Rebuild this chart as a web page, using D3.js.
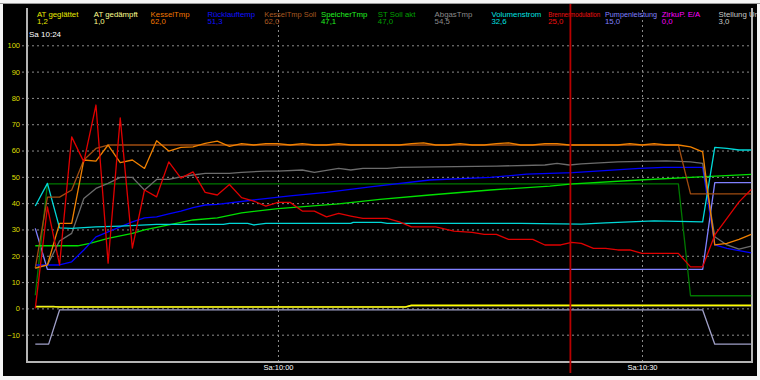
<!DOCTYPE html>
<html lang="de">
<head>
<meta charset="UTF-8">
<title>Heizung Verlauf</title>
<style>
  body { margin: 0; background: #fff; }
  svg { display: block; font-family: Arial, 'Liberation Sans', sans-serif; }
  .grid line { stroke: #8c8c8c; stroke-dasharray: 2,3; }
  .grid .domain { display: none; }
  .series { fill: none; stroke-width: 1.3; stroke-linejoin: round; }
</style>
</head>
<body>
<svg id="chart" width="760" height="380"></svg>
<script src="https://cdn.jsdelivr.net/npm/d3@7/dist/d3.min.js"></script>
<script>
// [minutes after 09:40, value]
const atGeglaettet = [[0,0.6],[30.5,0.6],[31,1.2],[59,1.2]];
const atGedaempft = [[0,0.8],[1.5,0.8],[2,0.5],[30.5,0.5],[31,1.0],[59,1.0]];
const kesselTmp = [[0,15.3],[1,16.5],[2,32.3],[3,32.3],[4,56.4],[5,56],[6,62.1],[7,55.4],[8,56.4],[9,53.2],[10,63.7],
  [11,59.8],[12,61.2],[13,61.4],[14,62.7],[15,63.6],[16,61.6],[17,62.6],[18,62.1],[19,62.6],[20,62.6],[21,62.1],
  [22,62.6],[23,62.1],[24,62.1],[25,62.6],[26,62.1],[27,62.1],[28,62.1],[29,62.1],[30,62.1],[31,62.6],[32,62.9],
  [33,62.1],[34,62.1],[35,62.6],[36,62.1],[37,62.1],[38,62.6],[39,62.9],[40,62.1],[41,62.1],[42,62.6],[43,62.6],
  [44,62.1],[45,62.1],[46,62.1],[47,62.1],[48,62.1],[49,62.6],[50,62.1],[51,62.6],[52,62.1],[53,62.1],[54,61.4],
  [55,59.5],[56,24.1],[57,24.7],[58,26.2],[59,28.1]];
const ruecklauf = [[0,16.5],[2,16.5],[3,17.7],[4,22.2],[5,27.2],[6,29.1],[7,31],[8,32.9],[9,34.4],[10,34.8],[11,35.9],
  [12,37],[13,38.3],[14,39.3],[15,39.5],[18,41.2],[21,42.8],[24,44.1],[27.6,46.2],[32.5,48.8],[37.5,49.8],[40.5,51],
  [42.4,51.3],[44.3,51.6],[49.8,53.2],[51.8,53.6],[55,53.6],[56,24.1],[57,22.8],[59,21.1]];
const kesselSoll = [[0,15.3],[1,42.3],[2,42.3],[3,45],[4,56.4],[5,60.8],[6,62.1],[53,62.1],[54,43.5],[59,43.5]];
const speicherTmp = [[0,23.8],[3.5,23.8],[4.5,24.7],[6,26.6],[8,28.5],[9,29.8],[11,31.7],[13,33.6],[15,34.4],[17,36.3],
  [20,37.9],[25,39.7],[28.4,41.4],[32.5,43.1],[37.5,45],[42.4,46.5],[44.3,47.3],[49.8,48.8],[54.8,50],[59,50.9]];
const stSollAkt = [[0,5],[1,47.3],[53,47.3],[54,4.8],[59,4.8]];
const abgasTmp = [[0,15.3],[1,16.5],[2,25.6],[3,28.5],[4,41.8],[5,45.6],[6,47.5],[7,49.8],[8,49.8],[9,45],[10,49],
  [11,49],[12,50],[13,50.7],[14,51.3],[16,51.3],[17,51.7],[19,52.2],[20,52.2],[22,52.6],[23,51.7],[25,53.2],[26,52.6],
  [27,53.2],[29,53.2],[30,53.6],[33,53.8],[38,54.1],[42,54.5],[43,55.1],[44,54.5],[45,54.9],[48,55.7],[52,56.1],
  [54,55.7],[55,55.1],[56,27.2],[57,24.1],[58,22.5],[59,23.7]];
const volumenstrom = [[0,38.9],[1,47.5],[2,30.6],[3,30.4],[5,31],[7,31.3],[10,31.9],[15.5,31.9],[16,32.3],[17.5,32.3],
  [18,31.7],[19,32.3],[26,32.3],[26.2,32.7],[28.5,32.7],[29,32.3],[40,32.3],[45,32],[47,32.5],[51,33.3],[55,32.9],
  [56,61.2],[57,60.8],[58,60.2],[59,60.2]];
const brenner = [[0,0],[1,38.6],[2,16.5],[3,65.2],[4,55.7],[5,77.3],[6,17.2],[7,72.4],[8,22.9],[9,45],[10,42.4],
  [11,55.7],[12,49.5],[13,51.9],[14,44.1],[15,43.1],[16,47.1],[17,42.1],[18,40.8],[19,38.9],[20,40.3],[21,40.3],
  [22,37],[23,37],[24,34.8],[25,36.1],[26,35.1],[27,34.2],[29,34.2],[30,32.9],[31,31],[33,31],[34.5,29.4],[36,28.9],
  [37,28.1],[38,28.1],[39,26.2],[41,26.2],[42,24.1],[43.3,24.1],[44.2,25.1],[45,24.7],[46,22.8],[47,22.8],[48,22.2],
  [49,22.2],[50,20.9],[53,20.9],[54,15.8],[55,15.8],[56,27.9],[57,34.2],[58,40.5],[59,45.2]];
const pumpen = [[0,30.4],[1,14.8],[55,14.8],[56,47.8],[59,47.8]];
const stellung = [[0,-13.6],[1.1,-13.6],[2,-0.6],[55,-0.6],[56,-13.6],[59,-13.6]];

const legendNames = ["AT geglättet", "AT gedämpft", "KesselTmp", "Rücklauftemp", "KesselTmp Soll", "SpeicherTmp",
  "ST Soll akt", "AbgasTmp", "Volumenstrom", "Brennermodulation", "Pumpenleistung", "ZirkuP.  E/A", "Stellung Um"];
const legendValues = ["1,2", "1,0", "62,0", "51,3", "62,0", "47,1", "47,0", "54,5", "32,6", "25,0", "15,0", "0,0", "3,0"];
const legendColors = ["#e8e800", "#ffff90", "#f07800", "#1010ff", "#a85a20", "#20f020", "#00a000", "#8a8a8a",
  "#00e0e0", "#f01010", "#8080ff", "#ff00ff", "#c8c8c8"];

const yTicks = [100, 90, 80, 70, 60, 50, 40, 30, 20, 10, 0, -10];
const xTicks = [[10, 0], [10, 30]];
const cursorTime = [10, 24, 6];

const W = 760, H = 380;
const plotL = 27, plotR = 752, plotT = 8, plotB = 361;
const stamp = (h, m, s) => new Date(2013, 0, 5, h, m, s || 0);
const at = min => new Date(stamp(9, 40).getTime() + min * 60000);

const svg = d3.select('#chart');

// window frame
svg.append('rect').attr('width', W).attr('height', H).attr('fill', '#f4f4f4');
svg.append('rect').attr('x', 3).attr('y', 4).attr('width', 754).attr('height', 372).attr('fill', '#000');
svg.append('line').attr('x1', 0).attr('x2', W).attr('y1', 3.5).attr('y2', 3.5).attr('stroke', '#9a9a9a');
svg.append('clipPath').attr('id', 'bg').append('rect').attr('x', 3).attr('y', 4).attr('width', 754).attr('height', 372);

const x = d3.scaleTime().domain([stamp(9, 39, 19), stamp(10, 39, 4)]).range([plotL, plotR]);
const y = d3.scaleLinear().domain([-20, 100]).range([plotB, 45.3]);

// horizontal grid + labels
const gy = svg.append('g').attr('class', 'grid').attr('transform', 'translate(22,0)')
  .call(d3.axisLeft(y).tickValues(yTicks).tickSize(-(plotR - 22)).tickPadding(2));
gy.selectAll('text').attr('fill', '#dede00').style('font-size', '7.5px');

// vertical grid + time labels
const gx = svg.append('g').attr('class', 'grid').attr('transform', `translate(0,${plotB + 1})`)
  .call(d3.axisBottom(x).tickValues(xTicks.map(t => stamp(t[0], t[1])))
    .tickFormat(d3.timeFormat('Sa:%H:%M')).tickSize(-(plotB + 1 - plotT)).tickPadding(3));
gx.selectAll('text').attr('fill', '#fff').style('font-size', '7.5px');

// plot frame
svg.append('path').attr('d', `M${plotL},${plotT}V${plotB + 1}H${plotR}V${plotT}`)
  .attr('stroke', '#b4b4b4').attr('stroke-width', 2).attr('fill', 'none');

// series
const line = d3.line().x(d => x(at(d[0]))).y(d => y(d[1]));
const series = [
  [stellung, "#a0a0c8"], [atGedaempft, "#c8c860"], [atGeglaettet, "#ffff00"], [pumpen, "#8080ff"],
  [stSollAkt, "#007800"], [speicherTmp, "#00e000"], [ruecklauf, "#0000ff"], [abgasTmp, "#6c6c6c"],
  [volumenstrom, "#00d8d8"], [kesselSoll, "#a04c10"], [kesselTmp, "#f08000"], [brenner, "#e00000"]
];
svg.append('g').selectAll('path').data(series).join('path')
  .attr('class', 'series').attr('d', d => line(d[0])).attr('stroke', d => d[1]);

// legend
const lg = svg.append('g').attr('clip-path', 'url(#bg)').style('font-size', '7.8px');
const item = lg.selectAll('g').data(legendNames).join('g')
  .attr('transform', (d, i) => `translate(${37 + i * 56.8},0)`).attr('fill', (d, i) => legendColors[i]);
item.append('text').attr('y', 16.8).text(d => d)
  .each(function () {
    if (this.getComputedTextLength() > 52) {
      d3.select(this).attr('textLength', 52).attr('lengthAdjust', 'spacingAndGlyphs');
    }
  });
item.append('text').attr('y', 24.3).text((d, i) => legendValues[i]);

// cursor
const cx = x(stamp(...cursorTime));
svg.append('line').attr('x1', cx).attr('x2', cx).attr('y1', 4).attr('y2', 373)
  .attr('stroke', '#b80000').attr('stroke-width', 1.8);
svg.append('text').attr('x', 29).attr('y', 37.3).attr('fill', '#fff').style('font-size', '8px').text('Sa 10:24');
</script>
</body>
</html>
